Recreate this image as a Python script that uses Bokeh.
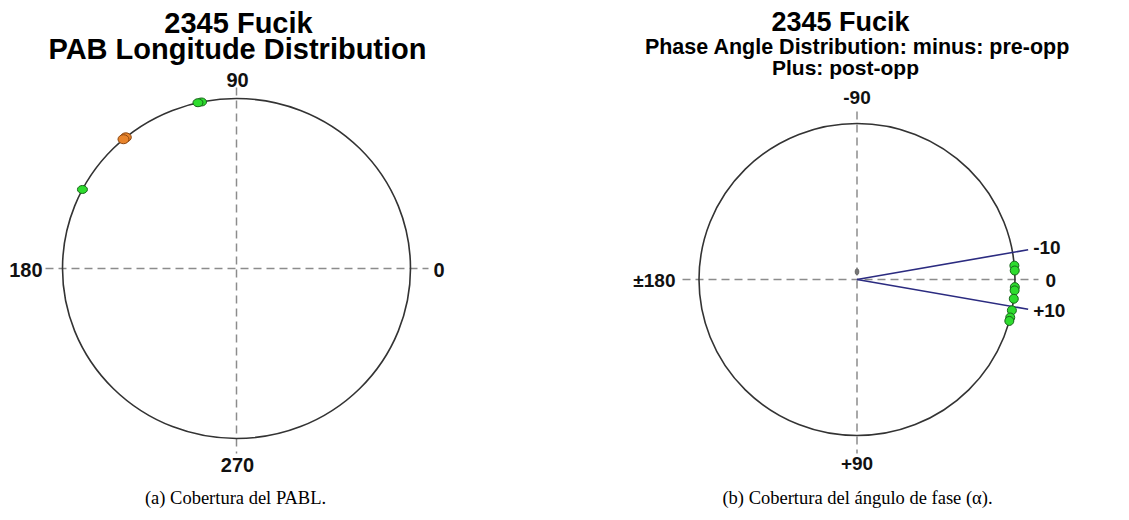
import numpy as np
from bokeh.plotting import figure
from bokeh.models import Range1d
from bokeh.core.properties import value
from bokeh.embed import file_html
from bokeh.resources import INLINE

# ---- data ----
pabl_green_deg = [101.6, 102.8, 152.3]
pabl_orange_deg = [129.5, 130.5]
pabl_tick_deg = [0, 90, 180, 270]
pabl_tick_labels = ["0", "90", "180", "270"]

phase_green_deg = [-5.1, -3.3, 2.8, 4.0, 7.1, 11.4, 14.1, 15.4]
phase_gray_deg = [-90]
phase_gray_r = [0.05]
phase_limit_deg = [-10, 10]
phase_limit_labels = ["-10", "+10"]
phase_tick_deg = [0, -90, 180, 90]
phase_tick_labels = ["0", "-90", "\u00b1180", "+90"]

title_a = ["2345 Fucik", "PAB Longitude Distribution"]
title_b = ["2345 Fucik", "Phase Angle Distribution: minus: pre-opp", "Plus: post-opp"]
captions = ["(a) Cobertura del PABL.", "(b) Cobertura del \u00e1ngulo de fase (\u03b1)."]

# ---- layout constants (pixel-like data space) ----
LCX, LCY, LRX, LRY = 236.0, 268.0, 174.0, 170.0
RCX, RCY, RRX, RRY = 856.5, 279.0, 158.0, 156.0
FONT = value("Liberation Sans")
SERIF = value("Liberation Serif")

p = figure(width=1129, height=520, x_range=Range1d(0, 1129), y_range=Range1d(520, 0),
           x_axis_type=None, y_axis_type=None, toolbar_location=None,
           output_backend="svg", min_border=0, outline_line_color=None)
p.grid.visible = False
p.background_fill_color = "white"

DASH = "8 5"
GRAY = "#8c8c8c"

# ---- left panel ----
p.segment(x0=[LCX - 191], y0=[LCY], x1=[LCX + 192], y1=[LCY], line_color=GRAY, line_width=1.5, line_dash=DASH)
p.segment(x0=[LCX], y0=[LCY - 181], x1=[LCX], y1=[LCY + 185], line_color=GRAY, line_width=1.5, line_dash=DASH)
p.ellipse(x=[LCX], y=[LCY], width=2 * LRX, height=2 * LRY, fill_color=None, line_color="#333333", line_width=1.6)

def lp(deg, r=1.0):
    a = np.radians(np.array(deg, dtype=float))
    return LCX + r * LRX * np.cos(a), LCY - r * LRY * np.sin(a)

ox, oy = lp(pabl_orange_deg)
p.ellipse(x=ox, y=oy, width=11, height=9, fill_color="#e8842c", line_color="#8a4510", line_width=1)
gx, gy = lp(pabl_green_deg)
p.ellipse(x=gx, y=gy, width=10, height=8, fill_color="#2edc2e", line_color="#17661a", line_width=1)

# left tick labels
lab_off = {0: (197, "left"), 90: (-189, "center"), 180: (-194, "right"), 270: (196, "center")}
for d, t in zip(pabl_tick_deg, pabl_tick_labels):
    off, al = lab_off[d]
    if d in (0, 180):
        x, y = LCX + off, LCY + 1
    else:
        x, y = LCX + 1, LCY + off
    p.text(x=[x], y=[y], text=[t], text_font=FONT, text_font_style="bold", text_font_size="20px",
           text_align=al, text_baseline="middle", text_color="#111111")

p.text(x=[LCX + 2], y=[22], text=[title_a[0]], text_font=FONT, text_font_style="bold", text_font_size="29px",
       text_align="center", text_baseline="middle", text_color="#000000")
p.text(x=[LCX + 1], y=[48], text=[title_a[1]], text_font=FONT, text_font_style="bold", text_font_size="29px",
       text_align="center", text_baseline="middle", text_color="#000000")

# ---- right panel ----
p.segment(x0=[RCX - 174.5], y0=[RCY], x1=[RCX + 181.5], y1=[RCY], line_color=GRAY, line_width=1.5, line_dash=DASH)
p.segment(x0=[RCX], y0=[RCY - 168], x1=[RCX], y1=[RCY + 174], line_color=GRAY, line_width=1.5, line_dash=DASH)
p.ellipse(x=[RCX], y=[RCY], width=2 * RRX, height=2 * RRY, fill_color=None, line_color="#333333", line_width=1.6)

def rp(deg, r=1.0):
    a = np.radians(np.array(deg, dtype=float))
    return RCX + np.array(r) * RRX * np.cos(a), RCY + np.array(r) * RRY * np.sin(a)

lx, ly = rp(phase_limit_deg, 1.10)
p.segment(x0=[RCX] * len(lx), y0=[RCY] * len(lx), x1=lx, y1=ly, line_color="#2b2b80", line_width=1.6)

gx2, gy2 = rp(phase_green_deg)
p.ellipse(x=gx2, y=gy2, width=9, height=9, fill_color="#2edc2e", line_color="#17661a", line_width=1)
grx, gry = rp(phase_gray_deg, phase_gray_r)
p.ellipse(x=grx, y=gry, width=4, height=6, fill_color="#777777", line_color="#555555", line_width=0.5)

for (x, y), t in zip(zip(lx, ly), phase_limit_labels):
    p.text(x=[x + 5], y=[y - 2 if t.startswith("-") else y + 1], text=[t], text_font=FONT, text_font_style="bold",
           text_font_size="19px", text_align="left", text_baseline="middle", text_color="#111111")

r_off = {0: (188.5, "left"), -90: (-182, "center"), 180: (-181.5, "right"), 90: (184, "center")}
for d, t in zip(phase_tick_deg, phase_tick_labels):
    off, al = r_off[d]
    if d in (0, 180):
        x, y = RCX + off, RCY + 1
    else:
        x, y = RCX, RCY + off
    p.text(x=[x], y=[y], text=[t], text_font=FONT, text_font_style="bold", text_font_size="19px",
           text_align=al, text_baseline="middle", text_color="#111111")

p.text(x=[840], y=[21], text=[title_b[0]], text_font=FONT, text_font_style="bold", text_font_size="27px",
       text_align="center", text_baseline="middle", text_color="#000000")
p.text(x=[857], y=[46], text=[title_b[1]], text_font=FONT, text_font_style="bold", text_font_size="21.5px",
       text_align="center", text_baseline="middle", text_color="#000000")
p.text(x=[845], y=[67], text=[title_b[2]], text_font=FONT, text_font_style="bold", text_font_size="21px",
       text_align="center", text_baseline="middle", text_color="#000000")

# ---- captions ----
p.text(x=[235, 857], y=[497, 497], text=captions, text_font=SERIF, text_font_size="18.5px",
       text_align="center", text_baseline="middle", text_color="#000000")

open("out.html", "w").write(file_html(p, INLINE))
